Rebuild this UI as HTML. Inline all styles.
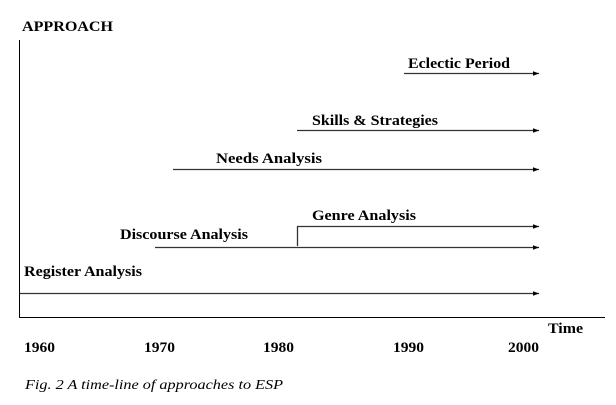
<!DOCTYPE html>
<html><head><style>
html,body{margin:0;padding:0;background:#fff;}
svg{display:block;}
text{font-family:"Liberation Serif",serif;fill:#000;}
.b{font-weight:bold;font-size:15px;}
</style></head><body>
<svg width="616" height="405" xmlns="http://www.w3.org/2000/svg">
<defs><marker id="a" markerWidth="6" markerHeight="6" refX="6" refY="3" orient="auto" markerUnits="userSpaceOnUse"><path d="M0,0.8 L6,3 L0,5.2z" fill="#000"/></marker></defs>
<g stroke="#000" stroke-width="1" fill="none">
<line x1="19.5" y1="40" x2="19.5" y2="317"/>
<line x1="19" y1="317.5" x2="605" y2="317.5"/>
</g>
<g stroke="#333" stroke-width="1.3" fill="none" marker-end="url(#a)">
<line x1="404" y1="73.5" x2="539" y2="73.5"/>
<line x1="297" y1="130.5" x2="539" y2="130.5"/>
<line x1="173" y1="169.5" x2="539" y2="169.5"/>
<polyline points="297.5,246 297.5,226.5 539,226.5"/>
<line x1="155" y1="247.5" x2="539" y2="247.5"/>
<line x1="20" y1="293.5" x2="539" y2="293.5"/>
</g>
<text x="22" y="31" class="b" textLength="91" lengthAdjust="spacingAndGlyphs">APPROACH</text>
<text x="408" y="68" class="b" textLength="102" lengthAdjust="spacingAndGlyphs">Eclectic Period</text>
<text x="312" y="125" class="b" textLength="126" lengthAdjust="spacingAndGlyphs">Skills &amp; Strategies</text>
<text x="216" y="163" class="b" textLength="106" lengthAdjust="spacingAndGlyphs">Needs Analysis</text>
<text x="312" y="220" class="b" textLength="104" lengthAdjust="spacingAndGlyphs">Genre Analysis</text>
<text x="120" y="239" class="b" textLength="128" lengthAdjust="spacingAndGlyphs">Discourse Analysis</text>
<text x="24" y="276" class="b" textLength="118" lengthAdjust="spacingAndGlyphs">Register Analysis</text>
<text x="548" y="333" class="b" textLength="35" lengthAdjust="spacingAndGlyphs">Time</text>
<text x="24" y="352" class="b" textLength="31" lengthAdjust="spacingAndGlyphs">1960</text>
<text x="144" y="352" class="b" textLength="31" lengthAdjust="spacingAndGlyphs">1970</text>
<text x="263" y="352" class="b" textLength="31" lengthAdjust="spacingAndGlyphs">1980</text>
<text x="393" y="352" class="b" textLength="31" lengthAdjust="spacingAndGlyphs">1990</text>
<text x="508" y="352" class="b" textLength="31" lengthAdjust="spacingAndGlyphs">2000</text>
<text x="25" y="389" style="font-style:italic;font-size:14px" textLength="258" lengthAdjust="spacingAndGlyphs">Fig. 2  A time-line of approaches to ESP</text>
</svg>
</body></html>
